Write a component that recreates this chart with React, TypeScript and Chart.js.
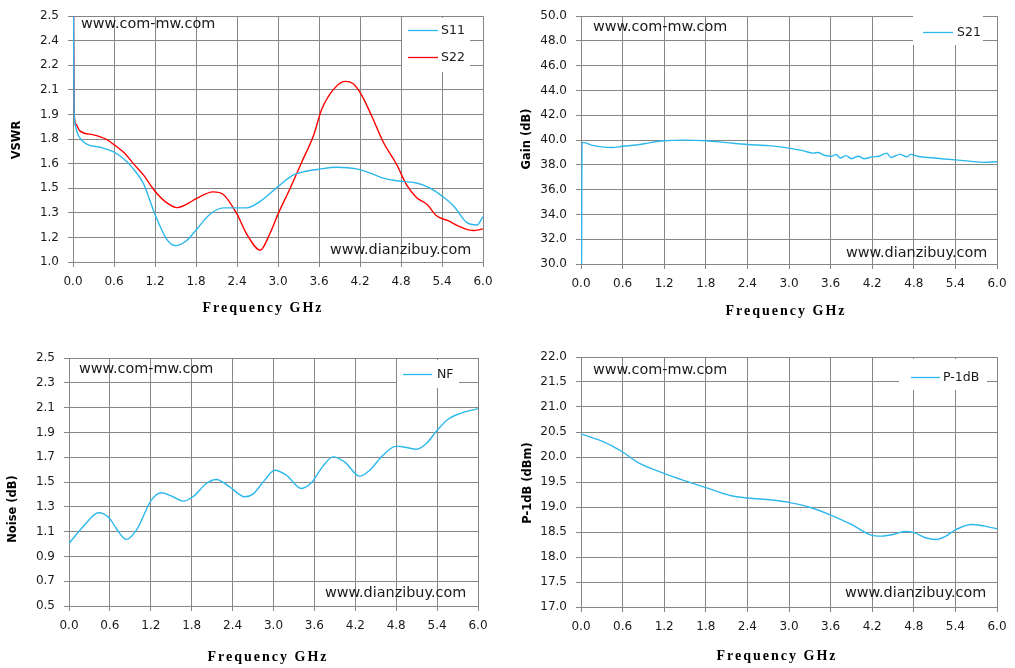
import React, { useEffect, useRef } from "react";
import { Chart, registerables } from "chart.js";
Chart.register(...registerables);

// ---------- shared axis data ----------
const freqTicks = [0, 0.6, 1.2, 1.8, 2.4, 3.0, 3.6, 4.2, 4.8, 5.4, 6.0];
const freqTickLabels = ["0.0", "0.6", "1.2", "1.8", "2.4", "3.0", "3.6", "4.2", "4.8", "5.4", "6.0"];

// ---------- VSWR panel ----------
const vswrTicks = [1.0, 1.15, 1.3, 1.45, 1.6, 1.75, 1.9, 2.05, 2.2, 2.35, 2.5];
const vswrTickLabels = ["1.0", "1.2", "1.3", "1.5", "1.6", "1.8", "1.9", "2.1", "2.2", "2.4", "2.5"];
const s11Freq = [0.008, 0.015, 0.035, 0.07, 0.2, 0.4, 0.6, 0.74, 0.88, 1.03, 1.2, 1.37, 1.5, 1.66, 1.81, 2.0, 2.2, 2.4, 2.54, 2.74, 3.0, 3.22, 3.37, 3.6, 3.86, 4.15, 4.39, 4.54, 4.81, 5.03, 5.22, 5.4, 5.57, 5.76, 5.91, 6.0];
const s11Vswr = [2.6, 1.95, 1.83, 1.78, 1.72, 1.70, 1.67, 1.63, 1.57, 1.48, 1.29, 1.14, 1.10, 1.13, 1.20, 1.29, 1.33, 1.33, 1.33, 1.37, 1.46, 1.53, 1.55, 1.566, 1.578, 1.568, 1.536, 1.512, 1.492, 1.482, 1.452, 1.402, 1.342, 1.242, 1.226, 1.276];
const s22Freq = [0.008, 0.018, 0.045, 0.1, 0.3, 0.49, 0.6, 0.76, 0.88, 1.03, 1.2, 1.37, 1.52, 1.66, 1.81, 2.05, 2.2, 2.4, 2.54, 2.74, 2.88, 3.0, 3.18, 3.35, 3.52, 3.64, 3.81, 3.98, 4.1, 4.22, 4.37, 4.54, 4.74, 4.88, 5.03, 5.18, 5.32, 5.49, 5.66, 5.86, 6.0];
const s22Vswr = [2.6, 1.9, 1.84, 1.80, 1.776, 1.748, 1.716, 1.662, 1.602, 1.532, 1.432, 1.362, 1.332, 1.352, 1.388, 1.428, 1.412, 1.292, 1.172, 1.072, 1.172, 1.292, 1.452, 1.612, 1.772, 1.932, 2.052, 2.102, 2.088, 2.022, 1.892, 1.732, 1.592, 1.472, 1.392, 1.352, 1.282, 1.252, 1.216, 1.192, 1.202];

// ---------- Gain panel ----------
const gainTicks = [30, 32, 34, 36, 38, 40, 42, 44, 46, 48, 50];
const gainTickLabels = ["30.0", "32.0", "34.0", "36.0", "38.0", "40.0", "42.0", "44.0", "46.0", "48.0", "50.0"];
const s21Freq = [0.008, 0.015, 0.04, 0.15, 0.3, 0.45, 0.6, 0.8, 1.0, 1.2, 1.5, 1.8, 2.1, 2.4, 2.7, 3.0, 3.2, 3.35, 3.42, 3.5, 3.62, 3.68, 3.74, 3.82, 3.9, 4.0, 4.08, 4.2, 4.3, 4.41, 4.47, 4.6, 4.7, 4.76, 4.85, 5.0, 5.2, 5.4, 5.6, 5.8, 6.0];
const s21Gain = [29.5, 39.8, 39.8, 39.6, 39.45, 39.4, 39.5, 39.6, 39.8, 39.95, 40.0, 39.95, 39.8, 39.65, 39.55, 39.35, 39.15, 38.95, 39.0, 38.8, 38.7, 38.85, 38.55, 38.75, 38.5, 38.7, 38.5, 38.65, 38.7, 38.95, 38.6, 38.85, 38.65, 38.85, 38.7, 38.6, 38.5, 38.4, 38.3, 38.2, 38.25];

// ---------- Noise panel ----------
const noiseTicks = [0.5, 0.7, 0.9, 1.1, 1.3, 1.5, 1.7, 1.9, 2.1, 2.3, 2.5];
const noiseTickLabels = ["0.5", "0.7", "0.9", "1.1", "1.3", "1.5", "1.7", "1.9", "2.1", "2.3", "2.5"];
const nfFreq = [0, 0.205, 0.435, 0.597, 0.694, 0.841, 0.988, 1.208, 1.355, 1.526, 1.672, 1.819, 2.015, 2.161, 2.357, 2.577, 2.699, 2.87, 3.017, 3.188, 3.408, 3.555, 3.726, 3.873, 4.044, 4.264, 4.411, 4.606, 4.802, 4.949, 5.095, 5.242, 5.389, 5.56, 5.731, 6.0];
const nfValues = [1.005, 1.139, 1.252, 1.206, 1.125, 1.037, 1.112, 1.354, 1.413, 1.381, 1.346, 1.381, 1.488, 1.52, 1.461, 1.381, 1.402, 1.515, 1.595, 1.555, 1.448, 1.493, 1.628, 1.703, 1.662, 1.547, 1.595, 1.716, 1.789, 1.778, 1.764, 1.81, 1.909, 2.006, 2.052, 2.092];

// ---------- P-1dB panel ----------
const p1Ticks = [17, 17.5, 18, 18.5, 19, 19.5, 20, 20.5, 21, 21.5, 22];
const p1TickLabels = ["17.0", "17.5", "18.0", "18.5", "19.0", "19.5", "20.0", "20.5", "21.0", "21.5", "22.0"];
const p1Freq = [0, 0.293, 0.438, 0.606, 0.822, 1.197, 1.495, 1.803, 2.168, 2.409, 2.745, 2.995, 3.322, 3.601, 3.899, 4.188, 4.332, 4.5, 4.668, 4.813, 4.957, 5.125, 5.245, 5.413, 5.63, 5.822, 6.0];
const p1Values = [20.463, 20.322, 20.229, 20.095, 19.888, 19.674, 19.527, 19.386, 19.226, 19.179, 19.139, 19.092, 18.985, 18.838, 18.651, 18.437, 18.417, 18.451, 18.511, 18.484, 18.39, 18.35, 18.404, 18.551, 18.651, 18.618, 18.564];

const BLUE = "#2db8ec";
const RED = "#ff0000";
const GRID = "#858585";
const TEXT = "#1a1a1a";

function pts(xs: number[], ys: number[]) {
  return xs.map((x, i) => ({ x, y: ys[i] }));
}

type Panel = {
  left: number; top: number; width: number; height: number;
  area: { l: number; t: number; r: number; b: number };
  yTicks: number[]; yLabels: string[];
  yTitle: string; yTitlePos: [number, number];
  xTitlePos: [number, number];
  wm1: [number, number]; wm2: [number, number];
  legendBox: [number, number, number, number];
  legendLine: [number, number]; legendTextX: number;
  series: { label: string; color: string; xs: number[]; ys: number[]; legendY: number }[];
};

const panels: Panel[] = [
  {
    left: 0, top: 0, width: 505, height: 330,
    area: { l: 73, t: 12, r: 483, b: 262 },
    yTicks: vswrTicks, yLabels: vswrTickLabels,
    yTitle: "VSWR", yTitlePos: [17, 140],
    xTitlePos: [263, 308],
    wm1: [81, 24], wm2: [330, 250],
    legendBox: [402, 18, 470, 72],
    legendLine: [408, 438], legendTextX: 441,
    series: [
      { label: "S11", color: BLUE, xs: s11Freq, ys: s11Vswr, legendY: 30 },
      { label: "S22", color: RED, xs: s22Freq, ys: s22Vswr, legendY: 57 },
    ],
  },
  {
    left: 505, top: 0, width: 510, height: 330,
    area: { l: 581, t: 15, r: 997, b: 264 },
    yTicks: gainTicks, yLabels: gainTickLabels,
    yTitle: "Gain (dB)", yTitlePos: [527, 139],
    xTitlePos: [786, 311],
    wm1: [593, 27], wm2: [846, 253],
    legendBox: [913, 16, 983, 45],
    legendLine: [923, 953], legendTextX: 957,
    series: [{ label: "S21", color: BLUE, xs: s21Freq, ys: s21Gain, legendY: 32 }],
  },
  {
    left: 0, top: 335, width: 505, height: 333,
    area: { l: 69, t: 358, r: 478, b: 606 },
    yTicks: noiseTicks, yLabels: noiseTickLabels,
    yTitle: "Noise (dB)", yTitlePos: [13, 509],
    xTitlePos: [268, 657],
    wm1: [79, 369], wm2: [325, 593],
    legendBox: [397, 360, 459, 388],
    legendLine: [403, 432], legendTextX: 437,
    series: [{ label: "NF", color: BLUE, xs: nfFreq, ys: nfValues, legendY: 374 }],
  },
  {
    left: 505, top: 335, width: 510, height: 333,
    area: { l: 581, t: 357, r: 997, b: 607 },
    yTicks: p1Ticks, yLabels: p1TickLabels,
    yTitle: "P-1dB (dBm)", yTitlePos: [528, 483],
    xTitlePos: [777, 656],
    wm1: [593, 370], wm2: [845, 593],
    legendBox: [899, 359, 987, 390],
    legendLine: [911, 940], legendTextX: 943,
    series: [{ label: "P-1dB", color: BLUE, xs: p1Freq, ys: p1Values, legendY: 377 }],
  },
];

function makeDeco(p: Panel) {
  const ox = p.left, oy = p.top;
  return {
    id: "deco",
    beforeDatasetsDraw(chart: any) {
      const ctx = chart.ctx;
      ctx.save();
      const [x1, y1, x2, y2] = p.legendBox;
      ctx.fillStyle = "#ffffff";
      ctx.fillRect(x1 - ox, y1 - oy, x2 - x1, y2 - y1);
      ctx.restore();
    },
    afterDraw(chart: any) {
      const ctx = chart.ctx;
      ctx.save();
      // watermarks
      ctx.fillStyle = TEXT;
      ctx.font = '14.4px "DejaVu Sans"';
      ctx.textBaseline = "middle";
      ctx.textAlign = "left";
      ctx.fillText("www.com-mw.com", p.wm1[0] - ox, p.wm1[1] - oy);
      ctx.fillText("www.dianzibuy.com", p.wm2[0] - ox, p.wm2[1] - oy);
      // legend
      ctx.font = '12.5px "DejaVu Sans"';
      p.series.forEach((s) => {
        ctx.strokeStyle = s.color;
        ctx.lineWidth = 1.3;
        ctx.beginPath();
        ctx.moveTo(p.legendLine[0] - ox, s.legendY - oy + 0.5);
        ctx.lineTo(p.legendLine[1] - ox, s.legendY - oy + 0.5);
        ctx.stroke();
        ctx.fillStyle = TEXT;
        ctx.fillText(s.label, p.legendTextX - ox, s.legendY - oy + 1);
      });
      // y title
      ctx.save();
      ctx.translate(p.yTitlePos[0] - ox, p.yTitlePos[1] - oy);
      ctx.rotate(-Math.PI / 2);
      ctx.textAlign = "center";
      ctx.font = 'bold 11.5px "DejaVu Sans"';
      ctx.fillStyle = "#000";
      ctx.fillText(p.yTitle, 0, 0);
      ctx.restore();
      // x title
      ctx.font = 'bold 14px "Liberation Serif"';
      (ctx as any).letterSpacing = "2px";
      ctx.textAlign = "center";
      ctx.fillStyle = "#000";
      ctx.fillText("Frequency GHz", p.xTitlePos[0] - ox, p.xTitlePos[1] - oy);
      ctx.restore();
    },
  };
}

function PanelChart({ p }: { p: Panel }) {
  const ref = useRef<HTMLCanvasElement | null>(null);
  useEffect(() => {
    if (!ref.current) return;
    const yMin = p.yTicks[0];
    const yMax = p.yTicks[p.yTicks.length - 1];
    const chart = new Chart(ref.current, {
      type: "line",
      data: {
        datasets: p.series.map((s) => ({
          label: s.label,
          data: pts(s.xs, s.ys),
          borderColor: s.color,
          backgroundColor: s.color,
          borderWidth: 1.4,
          pointRadius: 0,
          fill: false,
          cubicInterpolationMode: "monotone" as const,
        })),
      },
      options: {
        animation: false,
        responsive: false,
        devicePixelRatio: 1,
        layout: {
          padding: {
            left: 0,
            top: p.area.t - p.top,
            right: p.left + p.width - p.area.r,
            bottom: 0,
          },
        },
        plugins: { legend: { display: false }, tooltip: { enabled: false } },
        scales: {
          x: {
            type: "linear",
            min: 0,
            max: 6,
            afterFit: (s: any) => { s.height = p.top + p.height - p.area.b; },
            afterBuildTicks: (s: any) => { s.ticks = freqTicks.map((v) => ({ value: v })); },
            ticks: {
              autoSkip: false,
              maxRotation: 0,
              padding: 8,
              color: TEXT,
              font: { family: "DejaVu Sans", size: 12 },
              callback: (_v: any, i: number) => freqTickLabels[i],
            },
            grid: { color: GRID, lineWidth: 1, tickLength: 5, drawTicks: true },
            border: { color: GRID, width: 1 },
          },
          y: {
            type: "linear",
            min: yMin,
            max: yMax,
            afterFit: (s: any) => { s.width = p.area.l - p.left; },
            afterBuildTicks: (s: any) => { s.ticks = p.yTicks.map((v) => ({ value: v })); },
            ticks: {
              autoSkip: false,
              padding: 9,
              color: TEXT,
              font: { family: "DejaVu Sans", size: 12 },
              callback: (_v: any, i: number) => p.yLabels[i],
            },
            grid: { color: GRID, lineWidth: 1, tickLength: 5, drawTicks: true },
            border: { color: GRID, width: 1 },
          },
        },
      },
      plugins: [makeDeco(p)],
    });
    return () => chart.destroy();
  }, [p]);
  return (
    <div style={{ position: "absolute", left: p.left, top: p.top, width: p.width, height: p.height }}>
      <canvas ref={ref} width={p.width} height={p.height} style={{ width: p.width, height: p.height, display: "block" }} />
    </div>
  );
}

export default function App() {
  return (
    <div style={{ position: "absolute", left: 0, top: 0, width: 1015, height: 668, background: "#fff", overflow: "hidden" }}>
      {panels.map((p, i) => (
        <PanelChart key={i} p={p} />
      ))}
    </div>
  );
}
